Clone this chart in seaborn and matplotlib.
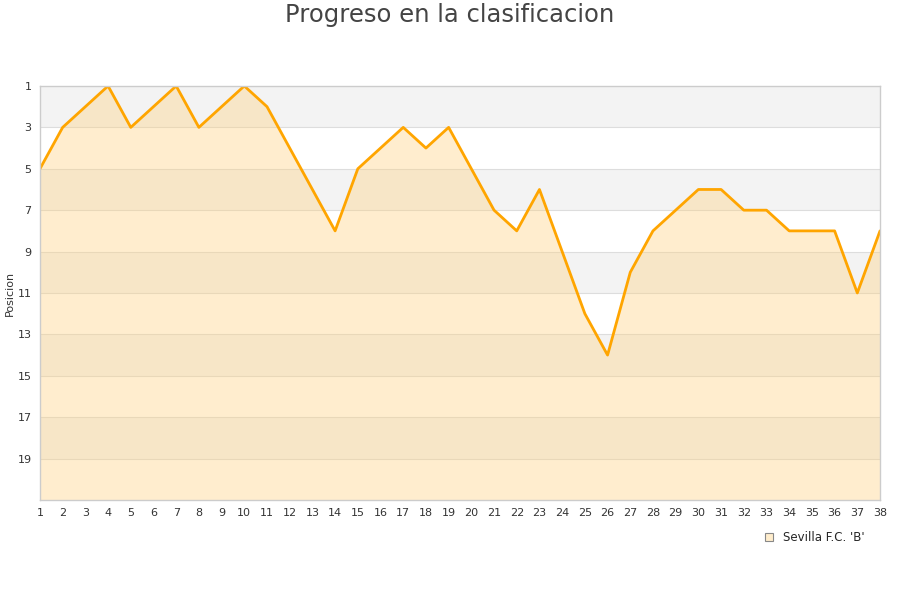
import numpy as np
import matplotlib.pyplot as plt
import pandas as pd
import seaborn as sns
from matplotlib.patches import Patch

# Datos: jornada y posicion
jornadas = list(range(1, 39))
posicion = [5, 3, 2, 1, 3, 2, 1, 3, 2, 1, 2, 4, 6, 8, 5, 4, 3, 4, 3, 5,
            7, 8, 6, 9, 12, 14, 10, 8, 7, 6, 6, 7, 7, 8, 8, 8, 11, 8]
equipo = "Sevilla F.C. 'B'"
y_ticks = [1, 3, 5, 7, 9, 11, 13, 15, 17, 19]

df = pd.DataFrame({'Jornada': jornadas, 'Posicion': posicion})

sns.set_style('white')
plt.rcParams['font.family'] = ['DejaVu Sans']

fig = plt.figure(figsize=(9, 6), dpi=100)
ax = fig.add_axes([0.0444, 0.1667, 0.9334, 0.69])

# Bandas alternas del fondo
for i, t in enumerate(y_ticks):
    if i % 2 == 0:
        ax.axhspan(t, t + 2, color='#f3f3f3', zorder=0, lw=0)
for t in y_ticks[1:]:
    ax.axhline(t, color='#dddddd', lw=0.8, zorder=0.5)

# Area y linea
ax.fill_between(df['Jornada'], df['Posicion'], 21, color='#ffd280', alpha=0.38, lw=0, zorder=1)
sns.lineplot(data=df, x='Jornada', y='Posicion', color='#ffa500', lw=2.0, ax=ax, zorder=2)

ax.set_xlim(1, 38)
ax.set_ylim(21, 1)
ax.set_xticks(jornadas)
ax.set_yticks(y_ticks)
ax.tick_params(axis='both', labelsize=8, colors='#333333', length=0, pad=6)
ax.set_xlabel('')
ax.set_ylabel('Posicion', fontsize=8, color='#333333', labelpad=2)
for s in ax.spines.values():
    s.set_color('#cccccc')
    s.set_linewidth(1)

fig.suptitle('Progreso en la clasificacion', fontsize=17.5, color='#444444', y=0.995)

handle = Patch(facecolor='#ffedcc', edgecolor='#888888', linewidth=0.8)
fig.legend([handle], [equipo], loc='center', bbox_to_anchor=(0.905, 0.104),
           frameon=False, fontsize=8.5, handlelength=0.7, handleheight=0.7)

plt.savefig('out.png', dpi=100)
